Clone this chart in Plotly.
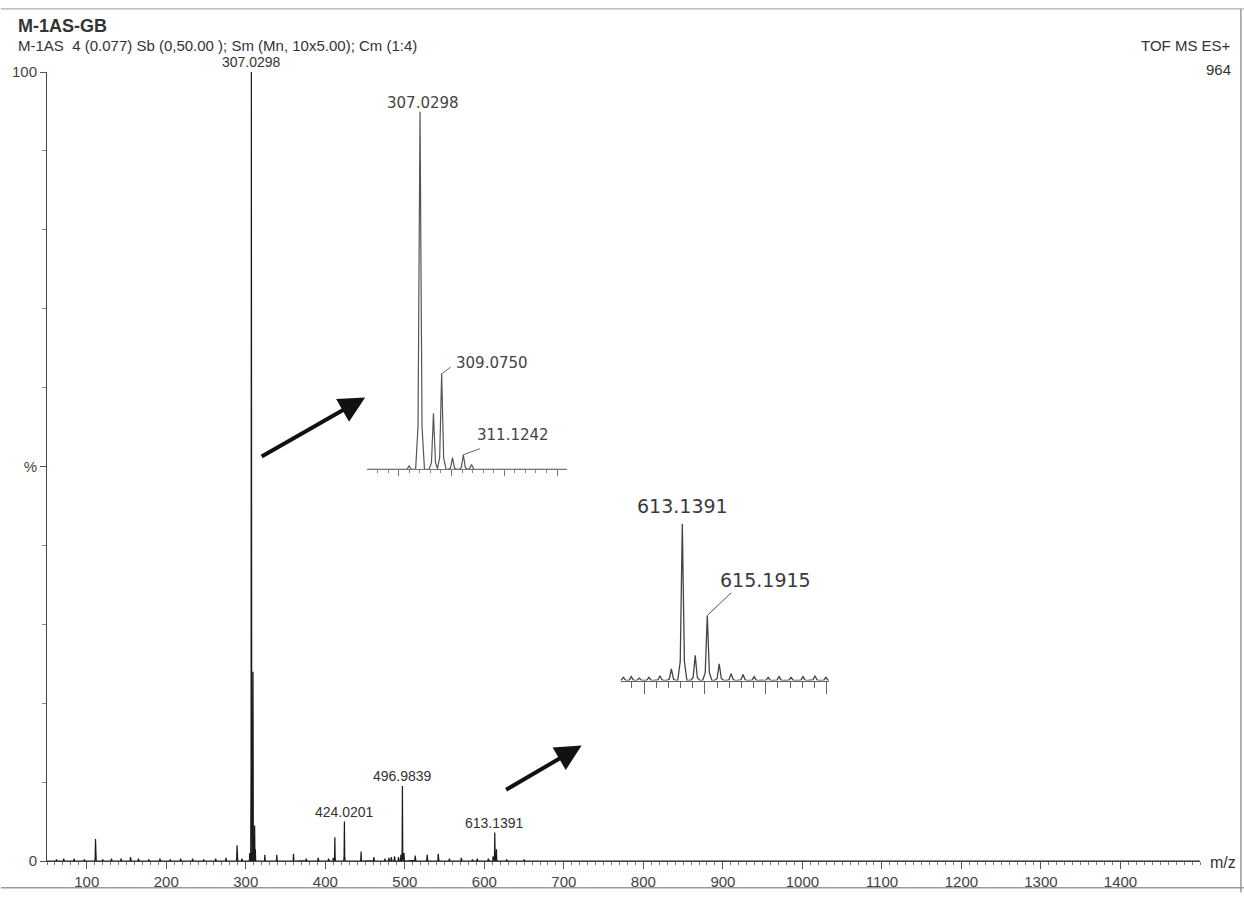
import plotly.graph_objects as go

# ---- full-scan centroid list (m/z, relative intensity %) ----
scan_mz = [62, 71, 84, 97, 111, 120, 131, 143, 155, 165, 178, 192, 205, 218, 233,
           247, 262, 275, 289, 295, 305, 307.0298, 308.3, 309.0750, 310.1, 311.1242,
           312.0, 324, 339, 360, 376, 391, 404, 410, 412, 424.0201, 445, 461, 475,
           480, 483, 487, 492, 495, 496.9839, 499, 513, 528, 542, 556, 571, 585,
           591, 605, 611, 613.1391, 615.1915, 628, 650]
scan_int = [0.2, 0.3, 0.3, 0.2, 2.8, 0.2, 0.3, 0.3, 0.5, 0.3, 0.2, 0.3, 0.2, 0.3, 0.3,
            0.2, 0.3, 0.4, 2.0, 0.3, 1.0, 100.0, 14.0, 24.0, 3.0, 4.5,
            1.5, 0.8, 0.8, 0.9, 0.3, 0.4, 0.3, 0.4, 3.0, 5.0, 1.2, 0.5, 0.3,
            0.4, 0.5, 0.6, 0.5, 0.8, 9.5, 1.0, 0.7, 0.8, 0.9, 0.3, 0.4, 0.2,
            0.3, 0.3, 0.6, 3.6, 1.5, 0.2, 0.2]
scan_labels = ["307.0298", "424.0201", "496.9839", "613.1391"]
scan_label_mz = [307.0298, 424.0201, 496.9839, 613.1391]

# ---- expanded view around m/z 307 ----
zoom1_mz = [306.0, 307.0298, 308.3, 309.0750, 310.1, 311.1242, 311.9]
zoom1_int = [1.0, 100.0, 15.7, 26.7, 3.3, 4.1, 1.4]

# ---- expanded view around m/z 613 ----
zoom2_mz = [608.3, 608.95, 609.6, 610.4, 611.3, 612.24, 613.1391, 614.2, 615.1915,
            616.17, 617.15, 618.13, 619.04, 620.19, 621.09, 622.07, 623.06, 624.04, 624.94]
zoom2_int = [2.0, 2.5, 1.5, 2.0, 3.0, 7.5, 100.0, 16.0, 41.5,
             10.7, 4.4, 3.8, 2.5, 2.0, 2.5, 2.0, 2.5, 3.0, 2.0]

x_ticks = list(range(100, 1500, 100))

FONT = "Liberation Sans, Arial, sans-serif"
TXT = "#333333"


def profile(mz, inten, half_width):
    """Turn a centroid list into a continuous peak trace along a zero baseline."""
    xs, ys = [], []
    for c, h in sorted(zip(mz, inten)):
        xs += [c - half_width, c - 0.45 * half_width, c, c + 0.45 * half_width, c + half_width]
        ys += [0, 0.12 * h, h, 0.12 * h, 0]
    return xs, ys


fig = go.Figure()

x0, y0 = profile(scan_mz, scan_int, 0.9)
x0 = [50] + x0 + [1500]
y0 = [0] + y0 + [0]
fig.add_trace(go.Scatter(x=x0, y=y0, mode="lines", line=dict(color="#1a1a1a", width=1.2),
                         xaxis="x", yaxis="y", hoverinfo="skip"))

x1, y1 = profile(zoom1_mz, zoom1_int, 0.42)
x1 = [302.03] + x1 + [320.9]
y1 = [0] + y1 + [0]
fig.add_trace(go.Scatter(x=x1, y=y1, mode="lines", line=dict(color="#555555", width=1.2),
                         xaxis="x2", yaxis="y2", hoverinfo="skip"))

x2, y2 = profile(zoom2_mz, zoom2_int, 0.38)
x2 = [608.06] + x2 + [625.19]
y2 = [0] + y2 + [0]
fig.add_trace(go.Scatter(x=x2, y=y2, mode="lines", line=dict(color="#444444", width=1.3),
                         xaxis="x3", yaxis="y3", hoverinfo="skip"))

annotations = []
# peak labels on the full scan
for lab, m in zip(scan_labels, scan_label_mz):
    h = scan_int[scan_mz.index(m)]
    annotations.append(dict(x=m, y=h, xref="x", yref="y", text=lab, showarrow=False,
                            yanchor="bottom", yshift=0, font=dict(family=FONT, size=14, color=TXT)))

# expanded view labels
IN_FONT = "DejaVu Sans, Liberation Sans, sans-serif"
annotations += [
    dict(x=307.0298, y=100, xref="x2", yref="y2", text="307.0298", showarrow=False,
         yanchor="bottom", xshift=3, yshift=-3, font=dict(family=IN_FONT, size=15, color="#444")),
    dict(x=313.82, y=29.75, xref="x2", yref="y2", text="309.0750", showarrow=False,
         yanchor="middle", font=dict(family=IN_FONT, size=15, color="#444")),
    dict(x=315.8, y=9.6, xref="x2", yref="y2", text="311.1242", showarrow=False,
         yanchor="middle", font=dict(family=IN_FONT, size=15, color="#444")),
    dict(x=613.1391, y=111.3, xref="x3", yref="y3", text="613.1391", showarrow=False,
         yanchor="middle", font=dict(family=IN_FONT, size=19, color="#3a3a3a")),
    dict(x=619.94, y=64.2, xref="x3", yref="y3", text="615.1915", showarrow=False,
         yanchor="middle", font=dict(family=IN_FONT, size=19, color="#3a3a3a")),
]

# pointer arrows toward the expanded views
annotations += [
    dict(x=0.27595, y=0.5875, xref="paper", yref="paper", ax=-105, ay=60, text="",
         showarrow=True, arrowhead=2, arrowsize=1.3, arrowwidth=4, arrowcolor="#111"),
    dict(x=0.46367, y=0.14625, xref="paper", yref="paper", ax=-77, ay=45, text="",
         showarrow=True, arrowhead=2, arrowsize=1.3, arrowwidth=4, arrowcolor="#111"),
]

# header and axis captions
annotations += [
    dict(x=-0.0268, y=1.05875, xref="paper", yref="paper", text="M-1AS-GB", showarrow=False,
         xanchor="left", yanchor="middle", font=dict(family=FONT, size=18, color=TXT, weight="bold")),
    dict(x=-0.0268, y=1.03375, xref="paper", yref="paper",
         text="M-1AS  4 (0.077) Sb (0,50.00 ); Sm (Mn, 10x5.00); Cm (1:4)", showarrow=False,
         xanchor="left", yanchor="middle", font=dict(family=FONT, size=15, color=TXT)),
    dict(x=1.02855, y=1.03375, xref="paper", yref="paper", text="TOF MS ES+", showarrow=False,
         xanchor="right", yanchor="middle", font=dict(family=FONT, size=15, color=TXT)),
    dict(x=1.02855, y=1.00375, xref="paper", yref="paper", text="964", showarrow=False,
         xanchor="right", yanchor="middle", font=dict(family=FONT, size=15, color=TXT)),
    dict(x=1.00692, y=-0.0025, xref="paper", yref="paper", text="m/z", showarrow=False,
         xanchor="left", yanchor="middle", font=dict(family=FONT, size=16, color=TXT)),
]

shapes = [
    # leader lines in the expanded views
    dict(type="line", xref="x2", yref="y2", x0=309.075, y0=26.7, x1=309.92, y1=28.6,
         line=dict(color="#666", width=1)),
    dict(type="line", xref="x2", yref="y2", x0=311.1242, y0=4.1, x1=312.69, y1=5.8,
         line=dict(color="#666", width=1)),
    dict(type="line", xref="x3", yref="y3", x0=615.1915, y0=41.5, x1=617.16, y1=56,
         line=dict(color="#555", width=1)),
    # page frame
    dict(type="line", xref="paper", yref="paper", x0=-0.04, y0=1.08, x1=1.04, y1=1.08,
         line=dict(color="#9a9a9a", width=1)),
    dict(type="line", xref="paper", yref="paper", x0=1.03547, y0=1.08, x1=1.03547, y1=-0.04,
         line=dict(color="#9a9a9a", width=1.5)),
    dict(type="line", xref="paper", yref="paper", x0=-0.04, y0=-0.03375, x1=1.04, y1=-0.03375,
         line=dict(color="#9a9a9a", width=1.5)),
]

fig.update_layout(
    width=1244, height=902, autosize=False,
    margin=dict(l=44, r=44, t=72, b=30, pad=0),
    paper_bgcolor="white", plot_bgcolor="rgba(0,0,0,0)",
    showlegend=False,
    annotations=annotations, shapes=shapes,
    xaxis=dict(range=[50, 1500], domain=[0, 1], anchor="y", showgrid=False, zeroline=False,
               showline=True, linecolor="#444", linewidth=1,
               tickmode="array", tickvals=x_ticks, ticks="outside", ticklen=7, tickcolor="#555",
               minor=dict(tickmode="linear", tick0=0, dtick=10, ticks="outside", ticklen=3,
                          tickcolor="#777", showgrid=False),
               tickfont=dict(family=FONT, size=15, color="#444")),
    yaxis=dict(range=[0, 100], domain=[0, 1], anchor="x", showgrid=False, zeroline=False,
               showline=True, linecolor="#444", linewidth=1,
               tickmode="array", tickvals=[0, 50, 100], ticktext=["0", "%", "100"],
               ticks="outside", ticklen=6, tickcolor="#555",
               minor=dict(tickmode="linear", tick0=0, dtick=10, ticks="outside", ticklen=4,
                          tickcolor="#888", showgrid=False),
               tickfont=dict(family=FONT, size=15, color="#444")),
    xaxis2=dict(range=[302.03, 320.9], domain=[0.2777, 0.4507], anchor="y2", showgrid=False,
                zeroline=False, showline=True, linecolor="#777", linewidth=1,
                tickmode="linear", tick0=0, dtick=5, ticks="outside", ticklen=6, tickcolor="#777",
                minor=dict(tickmode="linear", tick0=0, dtick=1, ticks="outside", ticklen=3,
                           tickcolor="#888", showgrid=False),
                showticklabels=False),
    yaxis2=dict(range=[0, 100], domain=[0.49625, 0.95], anchor="x2", visible=False),
    xaxis3=dict(range=[608.06, 625.19], domain=[0.4974, 0.6782], anchor="y3", showgrid=False,
                zeroline=False, showline=True, linecolor="#666", linewidth=1,
                tickmode="linear", tick0=0, dtick=5, ticks="outside", ticklen=12, tickcolor="#666",
                minor=dict(tickmode="linear", tick0=0, dtick=1, ticks="outside", ticklen=6,
                           tickcolor="#666", showgrid=False),
                showticklabels=False),
    # extra headroom so the top label of this view stays inside the axis range
    yaxis3=dict(range=[0, 125], domain=[0.22875, 0.4772], anchor="x3", visible=False),
)

fig.write_html("out.html")
